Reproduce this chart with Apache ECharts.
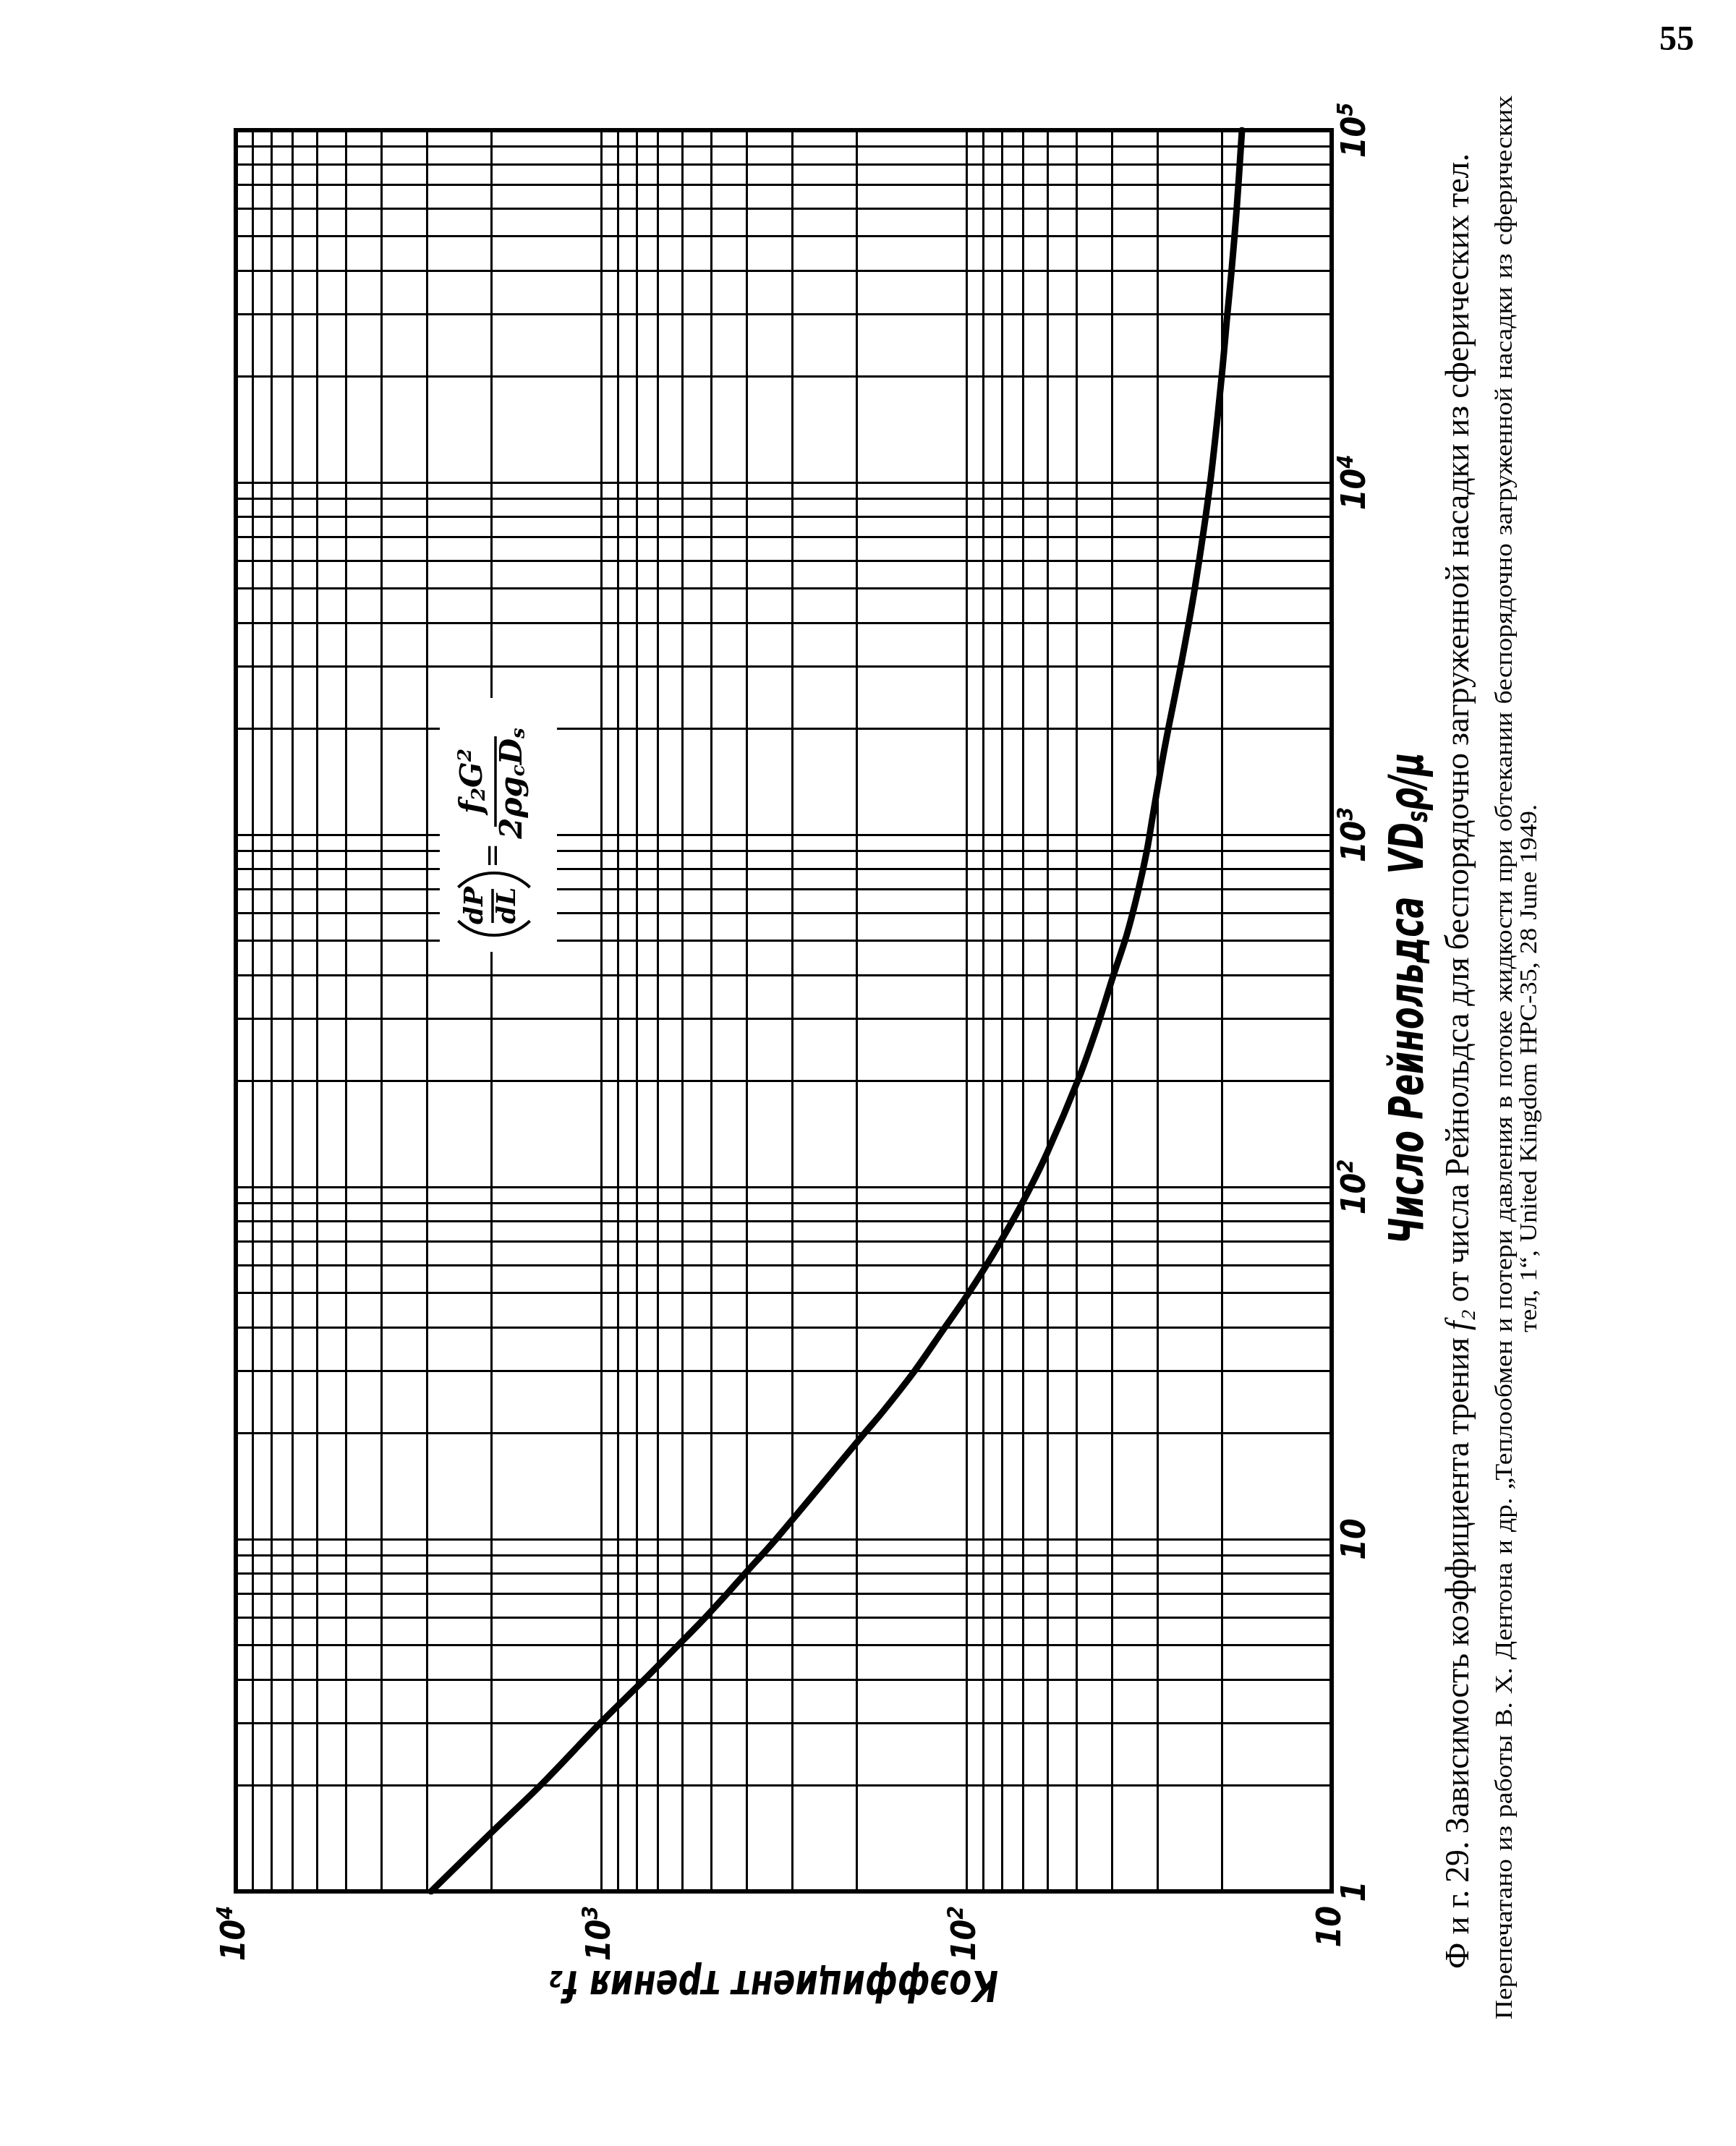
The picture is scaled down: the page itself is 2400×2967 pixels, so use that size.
<!DOCTYPE html>
<html>
<head>
<meta charset="utf-8">
<script src="https://cdn.jsdelivr.net/npm/echarts@6/dist/echarts.min.js"></script>
<style>
html,body{margin:0;padding:0;background:#fff;}
#c{width:2400px;height:2967px;}
</style>
</head>
<body>
<div id="c"></div>
<script>
// ---------------- data ----------------
const reynolds = [1, 1.46, 2, 3, 4, 5, 6, 7, 8, 10, 20, 22.9, 29.9, 39.4, 48.1, 58.5, 69, 89.5, 125, 205, 286, 395, 519, 689, 893,
  1127, 1556, 2000, 3000, 5000, 10000, 20000, 30000, 39800, 59600, 100000];
const friction = [2920, 2010, 1465, 1007, 760, 615, 518, 452, 403, 332, 190, 170, 139, 115.5, 101, 89.4, 81.2, 70.5, 60.1, 49.1, 43.8, 39.7, 36.4, 33.9, 32.1,
  30.9, 29.3, 28.0, 25.9, 23.7, 21.5, 20.0, 19.3, 18.8, 18.2, 17.6];

// axis ranges and grid decades
const f2Min = 10, f2Max = 10000;
const reMin = 1, reMax = 100000;
const f2Decades = [10, 100, 1000];
const reDecades = [1, 10, 100, 1000, 10000];
const gridMults = [1, 2, 3, 4, 5, 6, 7, 8, 9];

// texts
const f2Title = 'Коэффициент трения f₂';
const reTitle = 'Число Рейнольдса  VD{sub|s}ρ/μ';
const reTitlePlain = 'Число Рейнольдса  VDsρ/μ';
const caption1 = ['Ф\u00a0и\u00a0г.', '29.', 'Зависимость', 'коэффициента', 'трения', '*f₂', 'от', 'числа',
  'Рейнольдса', 'для', 'беспорядочно', 'загруженной', 'насадки', 'из', 'сферических', 'тел.'];
const caption2 = 'Перепечатано из работы В. Х. Дентона и др. „Теплообмен и потери давления в потоке жидкости при обтекании беспорядочно загруженной насадки из сферических'.split(' ');
const caption3 = 'тел, 1“, United Kingdom HPC-35, 28 June 1949.'.split(' ');
const pageNumber = '55';

// ---------------- helpers ----------------
const serif = "'Liberation Serif','DejaVu Serif',serif";
const condSans = "'Liberation Sans Narrow','DejaVu Sans Condensed','DejaVu Sans',sans-serif";
const eqFont = "'DejaVu Serif','Liberation Serif',serif";
const mctx = document.createElement('canvas').getContext('2d');
function measure(text, style, weight, size, family) {
  mctx.font = style + ' ' + weight + ' ' + size + 'px ' + family;
  return mctx.measureText(text).width;
}

const gridLeft = 326, gridRight = 1841, gridTop = 180, gridBottom = 2615;

const vLines = [], hLines = [];
f2Decades.forEach(d => gridMults.forEach(m => { const v = d * m; if (v > f2Min && v < f2Max) vLines.push(v); }));
reDecades.forEach(d => gridMults.forEach(m => { const v = d * m; if (v > reMin && v < reMax) hLines.push(v); }));

const curveData = reynolds.map((r, i) => [friction[i], r]);

function labelFmt(v) {
  const e = Math.round(Math.log10(v));
  if (e === 0) return '{b|1}';
  if (e === 1) return '{b|10}';
  return '{b|10}{sup|' + e + '}';
}
const labelRich = {
  b: {fontFamily: condSans, fontWeight: 'bold', fontStyle: 'italic', fontSize: 46, lineHeight: 64, color: '#000'},
  sup: {fontFamily: condSans, fontWeight: 'bold', fontStyle: 'italic', fontSize: 30, lineHeight: 64, color: '#000', padding: [0, 0, 26, 0]}
};

// condensed axis titles (scaled along the reading direction)
const titleFamily = "'DejaVu Sans',sans-serif";
const f2TitleSize = 58, reTitleSize = 66;
const f2TitleScale = 620 / measure(f2Title, 'italic', 'bold', f2TitleSize, titleFamily);
const reTitleScale = 690 / measure(reTitlePlain, 'italic', 'bold', reTitleSize, titleFamily);

// justified rotated line (reads bottom -> top); words may be stretched a little
function justifiedLine(words, cx, yStart, yEnd, size, weight, maxStretch) {
  const L = yStart - yEnd;
  const items = words.map(w => {
    const italic = w.charAt(0) === '*';
    const t = italic ? w.slice(1) : w;
    return {t, italic, w: measure(t, italic ? 'italic' : 'normal', weight, size, serif)};
  });
  const total = items.reduce((a, b) => a + b.w, 0);
  const space = measure(' ', 'normal', weight, size, serif) * 1.3;
  let s = (L - space * (items.length - 1)) / total;
  s = Math.max(1, Math.min(maxStretch, s));
  const gap = (L - total * s) / (items.length - 1);
  let pos = 0;
  const children = items.map(it => {
    const el = {type: 'text', z: 100, x: pos, y: 0, scaleX: s, style: {text: it.t, fontFamily: serif, fontSize: size,
      fontWeight: weight, fontStyle: it.italic ? 'italic' : 'normal', fill: '#000', align: 'left', verticalAlign: 'middle'}};
    pos += it.w * s + gap;
    return el;
  });
  return {type: 'group', x: cx, y: yStart, rotation: Math.PI / 2, z: 100, children};
}

const eqRich = {
  sub: {fontFamily: eqFont, fontWeight: 'bold', fontStyle: 'italic', fontSize: 26, padding: [16, 0, 0, 0]},
  sup: {fontFamily: eqFont, fontWeight: 'bold', fontStyle: 'italic', fontSize: 26, padding: [0, 0, 22, 0]}
};
const eqBase = {fontFamily: eqFont, fontWeight: 'bold', fontStyle: 'italic', fill: '#000'};

const equation = {
  type: 'group', x: 683, y: 1155, rotation: Math.PI / 2, z: 101,
  children: [
    {type: 'arc', z: 101, shape: {cx: -66, cy: 0, r: 72, startAngle: Math.PI - 0.76, endAngle: Math.PI + 0.76}, style: {stroke: '#000', lineWidth: 4, fill: null}},
    {type: 'arc', z: 101, shape: {cx: -124, cy: 0, r: 72, startAngle: -0.76, endAngle: 0.76}, style: {stroke: '#000', lineWidth: 4, fill: null}},
    {type: 'text', z: 101, x: -97, y: -25, style: Object.assign({}, eqBase, {text: 'dP', fontSize: 36, align: 'center', verticalAlign: 'middle'})},
    {type: 'line', z: 101, shape: {x1: -121, y1: -2, x2: -74, y2: -2}, style: {stroke: '#000', lineWidth: 3.5}},
    {type: 'text', z: 101, x: -97, y: 20, style: Object.assign({}, eqBase, {text: 'dL', fontSize: 36, align: 'center', verticalAlign: 'middle'})},
    {type: 'text', z: 101, x: -28, y: 1, style: Object.assign({}, eqBase, {text: '=', fontStyle: 'normal', fontWeight: 'normal', fontSize: 42, align: 'center', verticalAlign: 'middle'})},
    {type: 'line', z: 101, shape: {x1: 12, y1: 2, x2: 137, y2: 2}, style: {stroke: '#000', lineWidth: 3.5}},
    {type: 'text', z: 101, x: 75, y: -4, style: Object.assign({}, eqBase, {text: 'f{sub|2}G{sup|2}', fontSize: 42, align: 'center', verticalAlign: 'bottom', rich: eqRich})},
    {type: 'text', z: 101, x: 72, y: 6, style: Object.assign({}, eqBase, {text: '2ρg{sub|c}D{sub|s}', fontSize: 42, align: 'center', verticalAlign: 'top', rich: eqRich})}
  ]
};

const graphics = [
  {type: 'rect', z: 100, shape: {x: 608, y: 965, width: 162, height: 351}, style: {fill: '#fff'}},
  equation,
  // axis titles
  {type: 'text', z: 100, x: 1070, y: 2740, rotation: Math.PI, scaleX: f2TitleScale,
    style: {text: f2Title, fontFamily: titleFamily, fontWeight: 'bold', fontStyle: 'italic', fontSize: f2TitleSize,
      fill: '#000', align: 'center', verticalAlign: 'middle'}},
  {type: 'text', z: 100, x: 1950, y: 1380, rotation: Math.PI / 2, scaleX: reTitleScale,
    style: {text: reTitle, fontFamily: titleFamily, fontWeight: 'bold', fontStyle: 'italic', fontSize: reTitleSize,
      fill: '#000', align: 'center', verticalAlign: 'middle',
      rich: {sub: {fontFamily: titleFamily, fontWeight: 'bold', fontStyle: 'italic', fontSize: 40, fill: '#000', padding: [26, 0, 0, 0]}}}},
  // caption
  justifiedLine(caption1, 2018, 2722, 212, 46, 'normal', 1.0),
  justifiedLine(caption2, 2081, 2792, 132, 34, 'normal', 1.2),
  justifiedLine(caption3, 2115, 1842, 1112, 34, 'normal', 1.2),
  {type: 'text', x: 2318, y: 57, z: 100,
    style: {text: pageNumber, fontFamily: serif, fontWeight: 'bold', fontSize: 48, fill: '#000', align: 'center', verticalAlign: 'middle'}}
];

const chart = echarts.init(document.getElementById('c'), null, {renderer: 'canvas', width: 2400, height: 2967});
chart.setOption({
  animation: false,
  backgroundColor: '#fff',
  grid: {left: gridLeft, right: 2400 - gridRight, top: gridTop, bottom: 2967 - gridBottom,
    show: true, borderColor: '#000', borderWidth: 6, backgroundColor: 'transparent'},
  xAxis: {
    type: 'log', logBase: 10, min: f2Min, max: f2Max, inverse: true, position: 'bottom',
    axisLine: {show: false}, axisTick: {show: false}, splitLine: {show: false},
    axisLabel: {show: true, rotate: 90, margin: 20, formatter: labelFmt, rich: labelRich, lineHeight: 64,
      showMinLabel: true, showMaxLabel: true, hideOverlap: false}
  },
  yAxis: {
    type: 'log', logBase: 10, min: reMin, max: reMax, position: 'right',
    axisLine: {show: false}, axisTick: {show: false}, splitLine: {show: false},
    axisLabel: {show: true, rotate: 90, margin: 2, formatter: labelFmt, rich: labelRich, lineHeight: 64,
      showMinLabel: true, showMaxLabel: true, hideOverlap: false}
  },
  series: [{
    type: 'line', data: curveData, showSymbol: false, smooth: 0.3, silent: true, z: 3,
    lineStyle: {color: '#000', width: 9, cap: 'round'},
    markLine: {
      silent: true, symbol: ['none', 'none'], label: {show: false}, animation: false,
      lineStyle: {color: '#000', width: 3, type: 'solid'},
      emphasis: {disabled: true},
      data: vLines.map(v => ({xAxis: v})).concat(hLines.map(v => ({yAxis: v})))
    }
  }],
  graphic: graphics
});
</script>
</body>
</html>
